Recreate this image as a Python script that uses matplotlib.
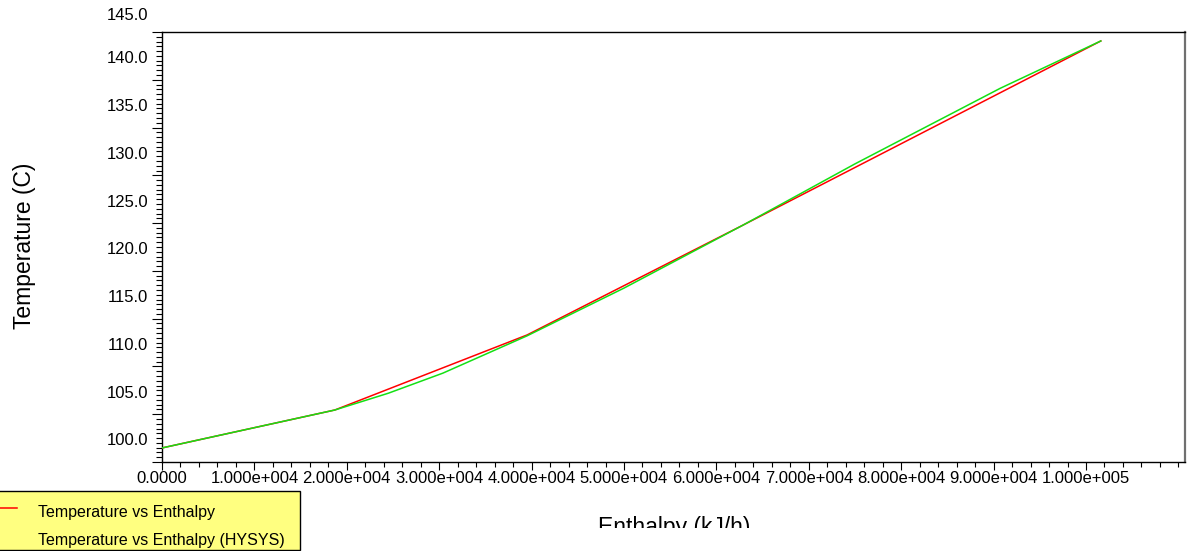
import matplotlib
matplotlib.use('Agg')
import numpy as np
import matplotlib.pyplot as plt
from matplotlib.ticker import FuncFormatter, FixedLocator
from matplotlib.patches import Rectangle
from matplotlib.lines import Line2D
from matplotlib.transforms import Bbox, TransformedBbox, blended_transform_factory, offset_copy

plt.rcParams['font.family'] = ['Liberation Sans', 'DejaVu Sans']

# data
enthalpy_calc = [0, 18700, 39500, 62900, 101600]
temp_calc = [99.27, 103.24, 111.09, 122.60, 141.86]

enthalpy_hysys = [0, 18700, 24500, 30400, 39500, 50000, 62900, 75000, 90700, 101600]
temp_hysys = [99.27, 103.24, 105.0, 107.1, 111.0, 116.0, 122.6, 129.0, 136.9, 141.86]

ytick_vals = [100.0, 105.0, 110.0, 115.0, 120.0, 125.0, 130.0, 135.0, 140.0, 145.0]
xtick_vals = [0, 10000, 20000, 30000, 40000, 50000, 60000, 70000, 80000, 90000, 100000]

W, H = 1187, 551
fig = plt.figure(figsize=(W / 100, H / 100), dpi=100)
ax = fig.add_axes([162 / W, (H - 462) / H, 1023 / W, 430 / H])

ax.plot(enthalpy_calc, temp_calc, color='#ff0000', lw=1.1, zorder=3)
ax.plot(enthalpy_hysys, temp_hysys, color='#14e014', lw=1.1, zorder=4)

ax.set_xlim(0, 110714)
ax.set_ylim(97.8, 142.8)

# x axis
def sci_fmt(v, pos):
    if v == 0:
        return '0.0000'
    m, e = f'{v:.3e}'.split('e')
    return f'{m}e{int(e):+04d}'

ax.xaxis.set_major_locator(FixedLocator(xtick_vals))
ax.xaxis.set_minor_locator(FixedLocator(np.arange(0, 110001, 2000)))
ax.xaxis.set_major_formatter(FuncFormatter(sci_fmt))
ax.tick_params(axis='x', which='major', length=5.8, width=0.8, pad=0.5,
               labelsize=12, direction='out')
ax.tick_params(axis='x', which='minor', length=3.6, width=0.8, direction='out')

# y axis: tick marks sit off the labels, like the source program draws them
ax.yaxis.set_major_locator(FixedLocator(97.8 + 5 * np.arange(10)))
ax.yaxis.set_minor_locator(FixedLocator(np.arange(97.8, 142.81, 0.5)))
ax.set_yticklabels([])
ax.tick_params(axis='y', which='major', length=7.2, width=0.8, direction='out')
ax.tick_params(axis='y', which='minor', length=4.0, width=0.8, direction='out')
ax.tick_params(axis='y', which='both', labelleft=False)

trans = blended_transform_factory(ax.transAxes, ax.transData)
trans_top = offset_copy(trans, fig=fig, y=-5, units='dots')
for v in ytick_vals:
    t = trans_top if v > 142.8 else trans
    ax.text(-14 / 1023, v, f'{v:.1f}', transform=t, ha='right', va='center',
            fontsize=12, clip_on=False)

for s in ['left', 'bottom', 'top']:
    ax.spines[s].set_color('black')
    ax.spines[s].set_linewidth(1.0)
ax.spines['right'].set_color('#707070')
ax.spines['right'].set_linewidth(1.6)

# axis titles
fig.text(25 / W, 1 - 246 / H, 'Temperature (C)', rotation=90, ha='center', va='center',
         fontsize=16.5)
xl = fig.text(674 / W, (H - 534) / H, 'Enthalpy (kJ/h)', ha='center', va='baseline',
              fontsize=16.5)
xl.set_clip_box(TransformedBbox(Bbox([[0, (H - 528) / H], [1, 1]]), fig.transFigure))
xl.set_clip_on(True)

# legend box, cut off on the left as in the source window
fig.add_artist(Rectangle((-2 / W, 1 / H), 302 / W, 59 / H, transform=fig.transFigure,
                         facecolor='#ffff80', edgecolor='black', lw=1.0))
fig.add_artist(Line2D([0, 17 / W], [(H - 508) / H, (H - 508) / H], transform=fig.transFigure,
                      color='#ff0000', lw=1.1))
fig.text(38 / W, (H - 512) / H, 'Temperature vs Enthalpy', ha='left', va='center',
         fontsize=11.5)
fig.text(38 / W, (H - 541) / H, 'Temperature vs Enthalpy (HYSYS)', ha='left', va='center',
         fontsize=11.5)

fig.savefig('out.png', dpi=100)
